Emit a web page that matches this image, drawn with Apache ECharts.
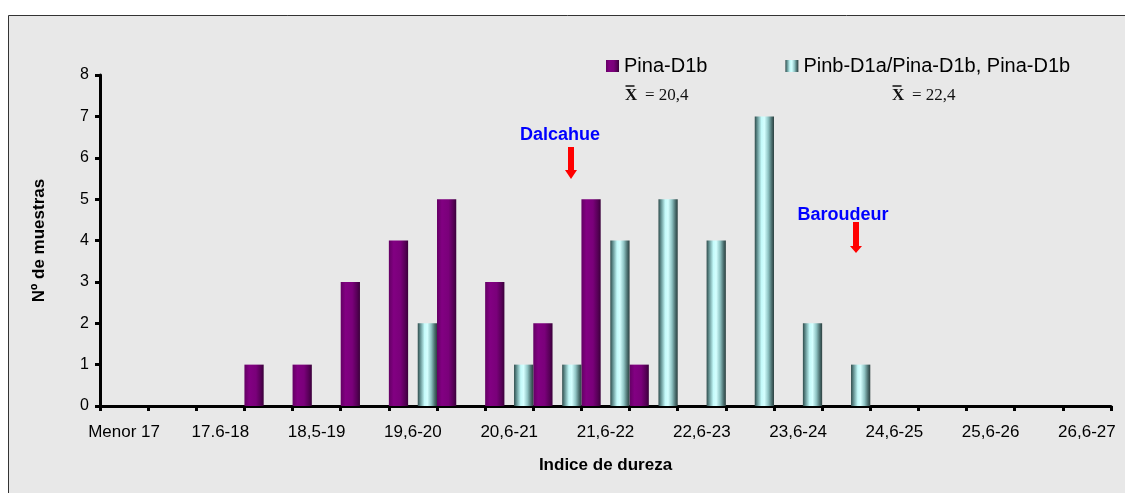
<!DOCTYPE html>
<html><head><meta charset="utf-8">
<script src="https://cdn.jsdelivr.net/npm/echarts@6/dist/echarts.min.js"></script>
<style>html,body{margin:0;padding:0;background:#fff}#c{width:1125px;height:493px}</style>
</head><body><div id="c"></div>
<script>
// Categories (every other one is unlabeled in the original)
const categories = ['Menor 17','','17.6-18','','18,5-19','','19,6-20','','20,6-21','','21,6-22','','22,6-23','','23,6-24','','24,6-25','','25,6-26','','26,6-27'];
const seriesNames = ['Pina-D1b', 'Pinb-D1a/Pina-D1b, Pina-D1b'];
const pinaD1b = [0,0,0,1,1,3,4,5,3,2,5,1,0,0,0,0,0,0,0,0,0];
const pinbD1aPinaD1b = [0,0,0,0,0,0,2,0,1,1,4,5,4,7,2,1,0,0,0,0,0];
const yMin = 0, yMax = 8, yStep = 1;
const meanLabels = ['= 20,4', '= 22,4'];
const annotations = ['Dalcahue', 'Baroudeur'];
const xTitle = 'Indice de dureza';
const yTitle = 'Nº de muestras';

const FONT = "'Liberation Sans', Arial, sans-serif";
const SERIF = "'Liberation Serif', 'Times New Roman', serif";

const purpleGrad = new echarts.graphic.LinearGradient(0,0,1,0,[
  {offset:0, color:'#640064'},
  {offset:0.25, color:'#820082'},
  {offset:0.6, color:'#7a007a'},
  {offset:0.85, color:'#560056'},
  {offset:1, color:'#3a003a'}
]);
const cyanGrad = new echarts.graphic.LinearGradient(0,0,1,0,[
  {offset:0, color:'#2f4c4c'},
  {offset:0.15, color:'#6a9a9a'},
  {offset:0.35, color:'#c4fafa'},
  {offset:0.5, color:'#d4ffff'},
  {offset:0.7, color:'#8fc4c4'},
  {offset:0.88, color:'#4a6e6e'},
  {offset:1, color:'#2c4040'}
]);

function arrow(cx, y0, y1, headY) {
  return {
    type: 'polygon', z: 50,
    shape: { points: [[cx-3,y0],[cx+3,y0],[cx+3,headY],[cx+6,headY],[cx,y1],[cx-6,headY],[cx-3,headY]] },
    style: { fill: '#ff0000' }
  };
}
function meanLabel(x0, text) {
  return [
    { type: 'text', x: x0, y: 104, z: 50,
      style: { text: 'X', font: "bold 17px " + SERIF, fill: '#111', verticalAlign: 'bottom' } },
    { type: 'line', z: 50, shape: { x1: x0 + 0.5, y1: 86, x2: x0 + 9.5, y2: 86 }, style: { stroke: '#111', lineWidth: 1.5 } },
    { type: 'text', x: x0 + 20, y: 104, z: 50,
      style: { text: text, font: "17px " + SERIF, fill: '#111', verticalAlign: 'bottom' } }
  ];
}

const chart = echarts.init(document.getElementById('c'), null, {renderer:'canvas'});
chart.setOption({
  backgroundColor: '#ffffff',
  animation: false,
  grid: { left: 100, right: 14, top: 75, bottom: 87, containLabel: false },
  legend: {
    left: 606, top: 56, padding: 0,
    itemWidth: 13, itemHeight: 12, itemGap: 78,
    icon: 'rect',
    textStyle: { fontSize: 20, fontFamily: FONT, color: '#000' },
    data: seriesNames
  },
  xAxis: {
    type: 'category',
    data: categories,
    name: xTitle,
    nameLocation: 'middle',
    nameGap: 51,
    nameTextStyle: { fontSize: 17, fontWeight: 'bold', fontFamily: FONT, color: '#000' },
    axisLine: { lineStyle: { color: '#000', width: 3 } },
    axisTick: { show: true, interval: 0, length: 5, lineStyle: { color: '#000', width: 3 } },
    axisLabel: { interval: 0, margin: 18, fontSize: 17, fontFamily: FONT, color: '#000' },
    splitLine: { show: false }
  },
  yAxis: {
    type: 'value',
    min: yMin, max: yMax, interval: yStep,
    name: yTitle,
    nameLocation: 'middle',
    nameGap: 52,
    nameTextStyle: { fontSize: 17, fontWeight: 'bold', fontFamily: FONT, color: '#000' },
    axisLine: { show: true, lineStyle: { color: '#000', width: 3 } },
    axisTick: { show: true, length: 5, lineStyle: { color: '#000', width: 3 } },
    axisLabel: { margin: 11, fontSize: 16, fontFamily: FONT, color: '#000' },
    splitLine: { show: false }
  },
  series: [
    { name: seriesNames[0], type: 'bar', data: pinaD1b, barCategoryGap: '0%', barGap: '50%',
      itemStyle: { color: purpleGrad }, z: 3 },
    { name: seriesNames[1], type: 'bar', data: pinbD1aPinaD1b, barCategoryGap: '0%', barGap: '50%',
      itemStyle: { color: cyanGrad }, z: 3 }
  ],
  graphic: [
    { type: 'rect', z: -100, silent: true,
      shape: { x: 8.5, y: 15.5, width: 1140, height: 500 },
      style: { fill: '#e8e8e8', stroke: '#333', lineWidth: 1 } }
  ].concat(meanLabel(625, meanLabels[0]), meanLabel(892, meanLabels[1]), [
    { type: 'text', x: 560, y: 135, z: 50,
      style: { text: annotations[0], font: "bold 18px " + FONT, fill: '#0000ff', align: 'center', verticalAlign: 'middle' } },
    arrow(571, 147, 179, 170),
    { type: 'text', x: 843, y: 215, z: 50,
      style: { text: annotations[1], font: "bold 18px " + FONT, fill: '#0000ff', align: 'center', verticalAlign: 'middle' } },
    arrow(856, 222, 253, 246)
  ])
});
</script></body></html>
